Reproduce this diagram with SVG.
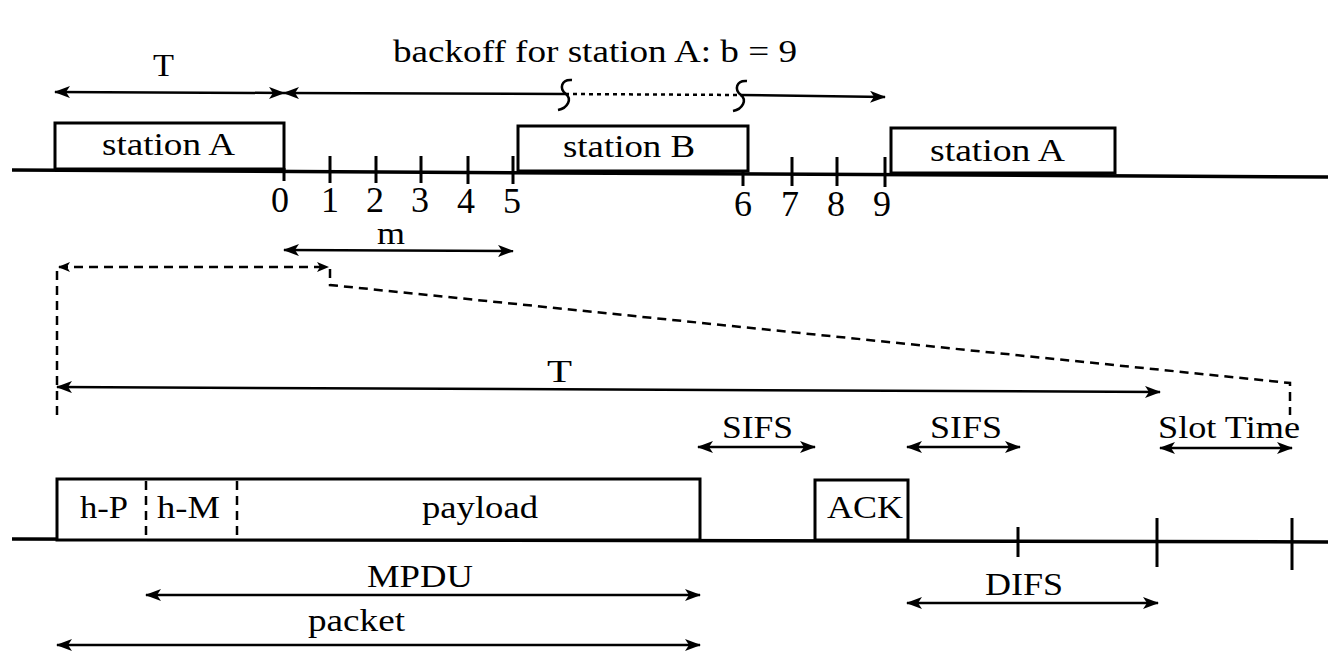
<svg xmlns="http://www.w3.org/2000/svg" width="1328" height="653" viewBox="0 0 1328 653">
<style>
text{font-family:"Liberation Serif","Times New Roman",serif;font-size:32px;fill:#000}
.dg{font-size:36px}
.box{fill:#fff;stroke:#000;stroke-width:3}
.ln{stroke:#000;stroke-width:2.5;fill:none}
.tl{stroke:#000;stroke-width:3.5;fill:none}
.tk{stroke:#000;stroke-width:3;fill:none}
.dash{stroke:#000;stroke-width:2.5;fill:none;stroke-dasharray:9 6}
.arr{stroke:#000;stroke-width:2.5;fill:none;marker-start:url(#ah);marker-end:url(#ah)}
</style>
<defs>
<marker id="ah" markerUnits="userSpaceOnUse" markerWidth="16" markerHeight="12" refX="15" refY="6" orient="auto-start-reverse"><path d="M0,0 L16,6 L0,12 L4,6 z" fill="#000"/></marker>
<marker id="ahe" markerUnits="userSpaceOnUse" markerWidth="16" markerHeight="12" refX="15" refY="6" orient="auto"><path d="M0,0 L16,6 L0,12 L4,6 z" fill="#000"/></marker>
<marker id="ahs" markerUnits="userSpaceOnUse" markerWidth="12" markerHeight="10" refX="11" refY="5" orient="auto-start-reverse"><path d="M0,0 L12,5 L0,10 L3,5 z" fill="#000"/></marker>
</defs>
<rect width="1328" height="653" fill="#fff"/>

<g id="timeline-top">
<line class="tl" x1="12" y1="170" x2="1328" y2="177"/>
<line class="tk" x1="284" y1="168" x2="284" y2="181"/>
<line class="tk" x1="330" y1="156" x2="330" y2="183"/>
<line class="tk" x1="376" y1="156" x2="376" y2="183"/>
<line class="tk" x1="421" y1="156" x2="421" y2="183"/>
<line class="tk" x1="468" y1="156" x2="468" y2="184"/>
<line class="tk" x1="513" y1="156" x2="513" y2="184"/>
<line class="tk" x1="743" y1="165" x2="743" y2="186"/>
<line class="tk" x1="792" y1="157" x2="792" y2="186"/>
<line class="tk" x1="837" y1="157" x2="837" y2="186"/>
<line class="tk" x1="885" y1="157" x2="885" y2="187"/>
<text class="dg" x="280" y="212" text-anchor="middle">0</text>
<text class="dg" x="330" y="212" text-anchor="middle">1</text>
<text class="dg" x="375" y="212" text-anchor="middle">2</text>
<text class="dg" x="420" y="212" text-anchor="middle">3</text>
<text class="dg" x="466" y="213" text-anchor="middle">4</text>
<text class="dg" x="512" y="213" text-anchor="middle">5</text>
<text class="dg" x="743" y="216" text-anchor="middle">6</text>
<text class="dg" x="790" y="216" text-anchor="middle">7</text>
<text class="dg" x="836" y="216" text-anchor="middle">8</text>
<text class="dg" x="882" y="216" text-anchor="middle">9</text>
</g>

<g id="stationA1">
<rect class="box" x="55" y="123" width="229" height="46"/>
<text x="102" y="155" textLength="133" lengthAdjust="spacingAndGlyphs">station A</text>
</g>
<g id="stationB">
<rect class="box" x="518" y="126" width="230" height="45"/>
<text x="563" y="157" textLength="132" lengthAdjust="spacingAndGlyphs">station B</text>
</g>
<g id="stationA2">
<rect class="box" x="891" y="128" width="224" height="45"/>
<text x="930" y="161" textLength="135" lengthAdjust="spacingAndGlyphs">station A</text>
</g>

<g id="labels-top">
<text x="393" y="62" textLength="404" lengthAdjust="spacingAndGlyphs">backoff for station A: b = 9</text>
<text x="153" y="76" textLength="21" lengthAdjust="spacingAndGlyphs">T</text>
<text x="377" y="244" textLength="28" lengthAdjust="spacingAndGlyphs">m</text>
</g>

<g id="timeline-bottom">
<line class="tl" x1="12" y1="539" x2="1328" y2="542"/>
<line class="tk" x1="1018" y1="527" x2="1018" y2="557"/>
<line class="tk" x1="1157" y1="518" x2="1157" y2="567"/>
<line class="tk" x1="1292" y1="518" x2="1292" y2="570"/>
</g>

<g id="packet">
<rect class="box" x="57" y="479" width="643" height="61"/>
<line class="dash" x1="146" y1="481" x2="146" y2="539" stroke-dasharray="7 5"/>
<line class="dash" x1="237" y1="481" x2="237" y2="539" stroke-dasharray="7 5"/>
<text x="80" y="518" textLength="48" lengthAdjust="spacingAndGlyphs">h-P</text>
<text x="157" y="518" textLength="63" lengthAdjust="spacingAndGlyphs">h-M</text>
<text x="422" y="518" textLength="116" lengthAdjust="spacingAndGlyphs">payload</text>
</g>
<g id="ack">
<rect class="box" x="815" y="480" width="93" height="60"/>
<text x="827" y="518" textLength="76" lengthAdjust="spacingAndGlyphs">ACK</text>
</g>

<g id="labels-bottom">
<text x="547" y="382" textLength="25" lengthAdjust="spacingAndGlyphs">T</text>
<text x="722" y="438" textLength="71" lengthAdjust="spacingAndGlyphs">SIFS</text>
<text x="930" y="438" textLength="72" lengthAdjust="spacingAndGlyphs">SIFS</text>
<text x="1158" y="438" textLength="142" lengthAdjust="spacingAndGlyphs">Slot Time</text>
<text x="367" y="587" textLength="106" lengthAdjust="spacingAndGlyphs">MPDU</text>
<text x="308" y="631" textLength="97" lengthAdjust="spacingAndGlyphs">packet</text>
<text x="985" y="595" textLength="78" lengthAdjust="spacingAndGlyphs">DIFS</text>
</g>

<g id="connectors">
<line class="arr" x1="55" y1="92" x2="284" y2="93"/>
<line class="ln" x1="284" y1="93" x2="565" y2="94" marker-start="url(#ah)"/>
<line class="ln" x1="565" y1="94" x2="740" y2="95" stroke-width="1.8" stroke-dasharray="4 4"/>
<line class="ln" x1="740" y1="95" x2="885" y2="97" marker-end="url(#ahe)"/>
<path class="ln" stroke-width="3" d="M572,80 C561,79 559,89 566,94 C572,99 568,108 558,110"/>
<path class="ln" stroke-width="3" d="M747,81 C736,80 734,90 741,95 C747,100 743,109 733,111"/>
<line class="arr" x1="284" y1="250" x2="513" y2="251"/>
<path class="dash" d="M57,415 V267"/>
<line class="ln" x1="59" y1="267" x2="328" y2="267" stroke-dasharray="9 6" marker-start="url(#ahs)" marker-end="url(#ahs)"/>
<path class="dash" d="M330,269 V285 L1290,383 V415"/>
<line class="arr" x1="57" y1="387" x2="1160" y2="392"/>
<line class="arr" x1="698" y1="447" x2="815" y2="447"/>
<line class="arr" x1="907" y1="447" x2="1020" y2="447"/>
<line class="arr" x1="1160" y1="448" x2="1292" y2="448"/>
<line class="arr" x1="146" y1="595" x2="700" y2="595"/>
<line class="arr" x1="57" y1="645" x2="700" y2="645"/>
<line class="arr" x1="907" y1="603" x2="1158" y2="603"/>
</g>
</svg>
